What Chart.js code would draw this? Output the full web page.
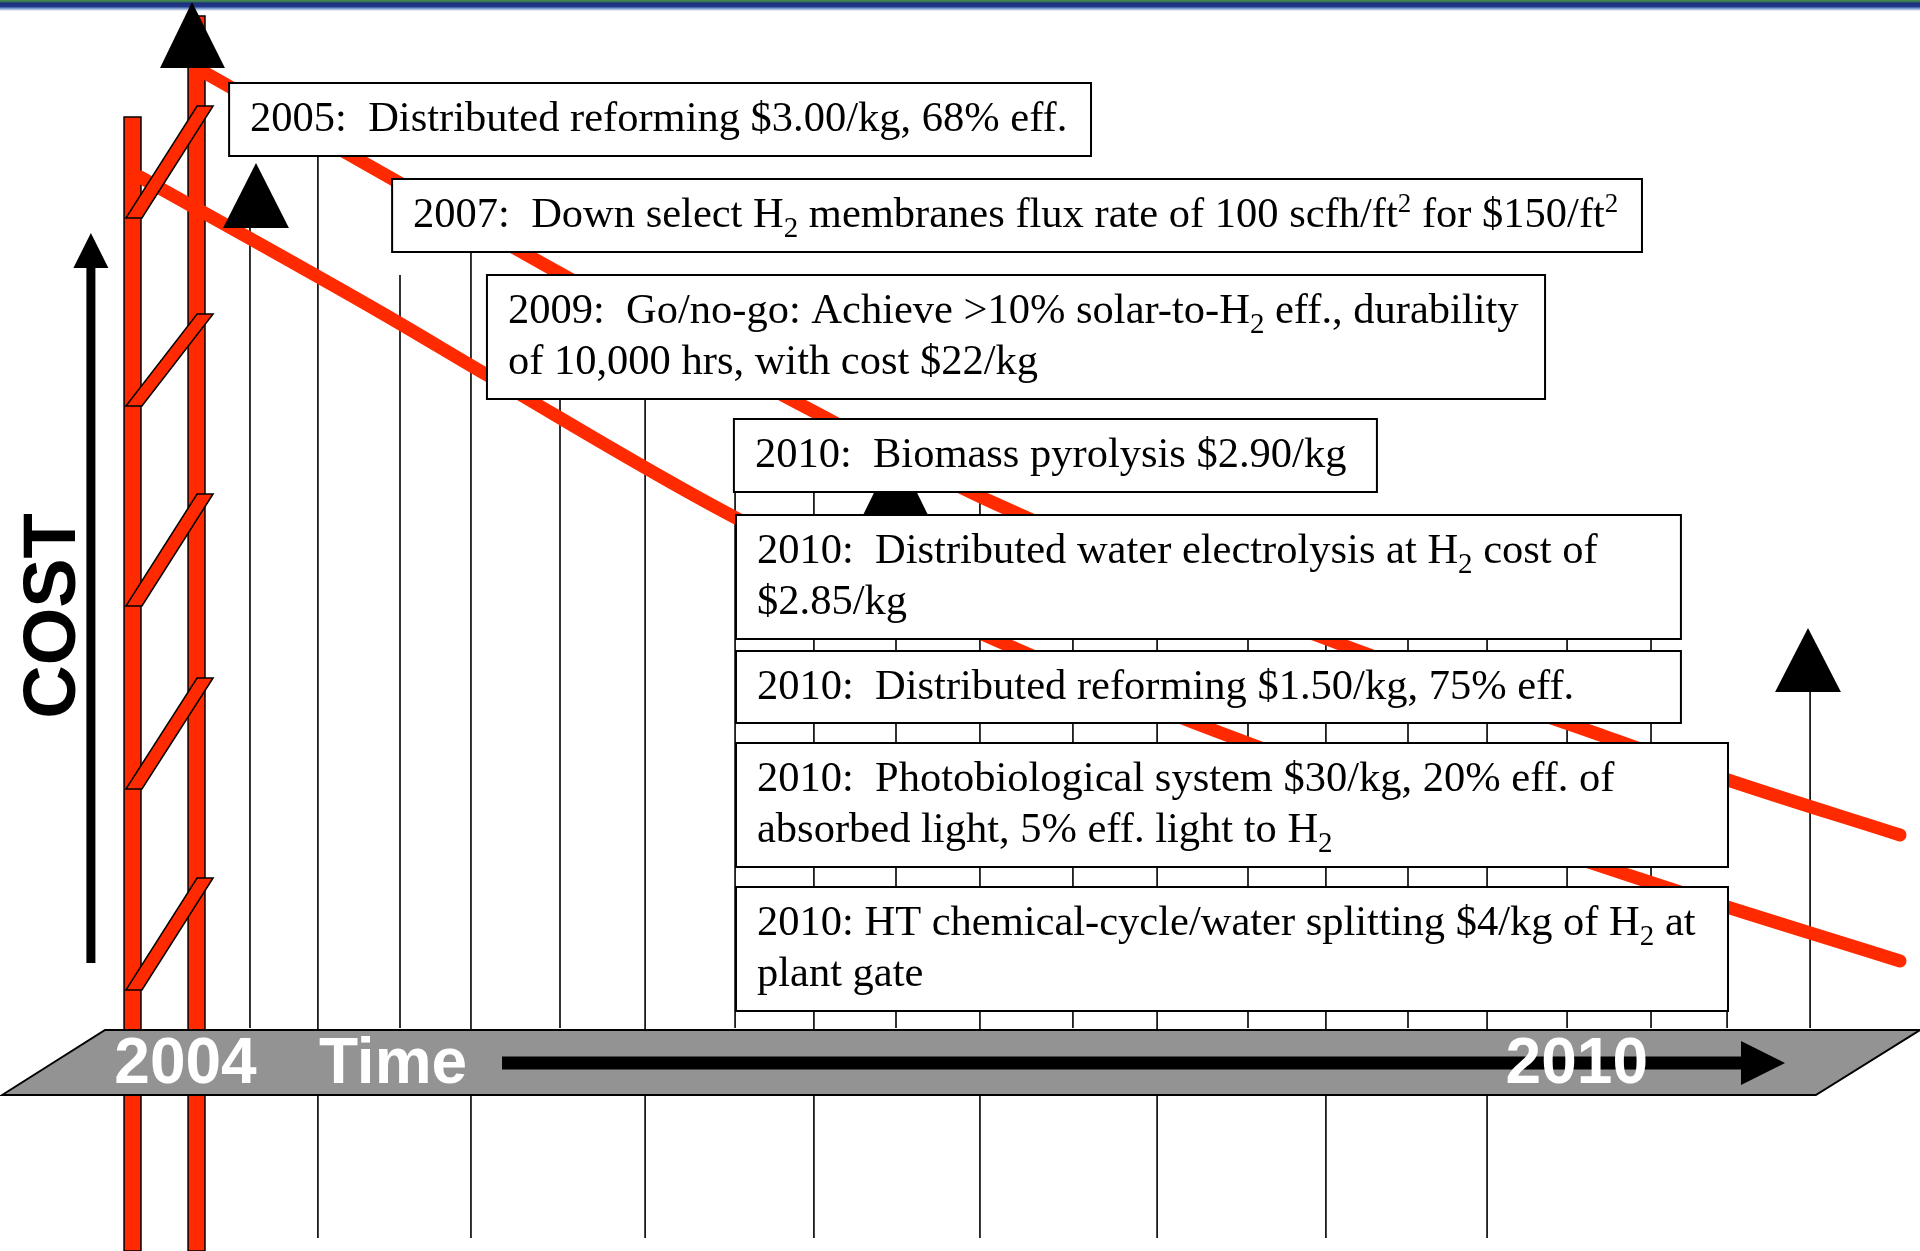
<!DOCTYPE html>
<html>
<head>
<meta charset="utf-8">
<script src="https://cdn.jsdelivr.net/npm/chart.js@4.4.1/dist/chart.umd.min.js"></script>
<style>
  html, body { margin: 0; padding: 0; background: #fff; }
  #wrap { width: 1920px; height: 1251px; }
</style>
</head>
<body>
<div id="wrap"><canvas id="roadmap" width="1920" height="1251"></canvas></div>
<script>
// ---------------------------------------------------------------------------
// Data
// ---------------------------------------------------------------------------
const timeLabels = ['2004', '2010'];
const timeLabelYears = [2004, 2010];
const timeTitle = 'Time';
const costTitle = 'COST';

// milestone boxes, one entry per box (_{..} = subscript, ^{..} = superscript)
const milestoneYears = [2005, 2007, 2009, 2010, 2010, 2010, 2010, 2010];
const milestoneLines = [
  ['2005:  Distributed reforming $3.00/kg, 68% eff.'],
  ['2007:  Down select H_{2} membranes flux rate of 100 scfh/ft^{2} for $150/ft^{2}'],
  ['2009:  Go/no-go: Achieve >10% solar-to-H_{2} eff., durability', 'of 10,000 hrs, with cost $22/kg'],
  ['2010:  Biomass pyrolysis $2.90/kg'],
  ['2010:  Distributed water electrolysis at H_{2} cost of', '$2.85/kg'],
  ['2010:  Distributed reforming $1.50/kg, 75% eff.'],
  ['2010:  Photobiological system $30/kg, 20% eff. of', 'absorbed light, 5% eff. light to H_{2}'],
  ['2010: HT chemical-cycle/water splitting $4/kg of H_{2} at', 'plant gate']
];

// falling cost curves (year, relative cost)
const curveAYears = [2004.063, 2004.809, 2005.550, 2006.689, 2007.487, 2008.979, 2010.078, 2010.652, 2011.394];
const curveACost  = [118.1, 108.3, 98.6, 84.2, 74.8, 60.7, 51.8, 47.1, 41.6];
const curveBYears = [2003.804, 2004.839, 2005.300, 2006.374, 2007.534, 2008.466, 2010.273, 2011.394];
const curveBCost  = [107.4, 93.9, 87.6, 73.3, 60.7, 51.8, 37.2, 29.0];

// time tick lines
const tickYears = [2004.278, 2004.571, 2004.925, 2005.231, 2005.615, 2005.982, 2006.370, 2006.710,
  2007.064, 2007.426, 2007.827, 2008.190, 2008.582, 2008.918, 2009.272, 2009.613,
  2009.958, 2010.320, 2010.648, 2011.006];
const tickLong = [false, true, false, true, false, true, false, true,
  false, true, false, true, false, true, false, true,
  false, false, false, false];

// ---------------------------------------------------------------------------
// Layout (scale units: x = year, y = relative cost)
// ---------------------------------------------------------------------------
const X_MIN = 2003.2, X_MAX = 2011.48;
const Y_MIN = 0, Y_MAX = 125.1;

const tickTop = [102.3, 109.4, 97.6, 99.9, 85.2, 85.2, 83.2, 83.2, 73.6, 75.9, 73.6, 73.6,
  73.6, 73.6, 73.6, 73.6, 73.6, 73.6, 24.0, 55.9];
const TICK_SHORT_END = 22.3;
const TICK_LONG_END = 1.3;

const boxes = [
  { x0: 2004.188, x1: 2007.905, top: 116.8, bottom: 109.5 },
  { x0: 2004.891, x1: 2010.281, top: 107.2, bottom: 99.9 },
  { x0: 2005.300, x1: 2009.863, top: 97.6, bottom: 85.2 },
  { x0: 2006.365, x1: 2009.138, top: 83.2, bottom: 75.9 },
  { x0: 2006.374, x1: 2010.449, top: 73.6, bottom: 61.2 },
  { x0: 2006.374, x1: 2010.449, top: 60.0, bottom: 52.8 },
  { x0: 2006.374, x1: 2010.652, top: 50.8, bottom: 38.4 },
  { x0: 2006.374, x1: 2010.652, top: 36.4, bottom: 24.0 }
];

const costBars = [
  { x0: 2003.735, x1: 2003.808, top: 113.4, bottom: 0 },
  { x0: 2004.011, x1: 2004.084, top: 123.5, bottom: 0 }
];
const rungTops = [114.5, 93.7, 75.7, 57.3, 37.3];
const rungBottoms = [103.3, 84.5, 64.5, 46.2, 26.1];
const rungTopX = [2004.050, 2004.119];
const rungBottomX = [2003.743, 2003.812];

const markers = [
  { x: 2004.028, apex: 124.9, base: 118.3, x0: 2003.890, x1: 2004.170 },
  { x: 2004.304, apex: 108.8, base: 102.3, x0: 2004.162, x1: 2004.446 },
  { x: 2007.062, apex: 80.2, base: 73.6, x0: 2006.922, x1: 2007.202 },
  { x: 2010.997, apex: 62.3, base: 55.9, x0: 2010.855, x1: 2011.139 }
];

const band = [[2003.653, 22.1], [2011.48, 22.1], [2011.031, 15.6], [2003.209, 15.6]];
const bandArrow = { x0: 2005.365, x1: 2010.708, tip: 2010.898, y: 18.8 };
const bandTextY = 16.8;
const timeTitleX = 2004.895;

const costArrow = { x: 2003.592, y0: 28.8, y1: 98.3, apex: 101.8 };
const costText = { x: 2003.437, y: 63.5 };

const RED = '#ff2a00';
const SERIF = '"Liberation Serif", "Times New Roman", Times, serif';
const SANS = '"Liberation Sans", Arial, Helvetica, sans-serif';
const FONT_SIZE = 42.5;

// ---------------------------------------------------------------------------
// Helpers
// ---------------------------------------------------------------------------
function drawRich(ctx, str, x, y) {
  const parts = str.split(/(_\{[^}]*\}|\^\{[^}]*\})/);
  let cx = x;
  parts.forEach(p => {
    if (!p) return;
    let txt = p, size = FONT_SIZE, dy = 0;
    if (p.startsWith('_{')) { txt = p.slice(2, -1); size = 29; dy = 10; }
    else if (p.startsWith('^{')) { txt = p.slice(2, -1); size = 27; dy = -15; }
    ctx.font = `${size}px ${SERIF}`;
    ctx.fillText(txt, cx, y + dy);
    cx += ctx.measureText(txt).width;
  });
}

function poly(ctx, pts) {
  ctx.beginPath();
  pts.forEach((p, i) => (i ? ctx.lineTo(p[0], p[1]) : ctx.moveTo(p[0], p[1])));
  ctx.closePath();
}

const roadmapPlugin = {
  id: 'roadmap',
  beforeDatasetsDraw(chart) {
    const { ctx, chartArea } = chart;
    const X = v => chart.scales.x.getPixelForValue(v);
    const Y = v => chart.scales.y.getPixelForValue(v);
    ctx.save();

    // header strip
    const g = ctx.createLinearGradient(0, chartArea.top, 0, chartArea.top + 11);
    g.addColorStop(0, '#4d8f4a');
    g.addColorStop(0.18, '#2f6a5e');
    g.addColorStop(0.28, '#1a2d7c');
    g.addColorStop(0.6, '#20398a');
    g.addColorStop(0.78, '#7d9ccf');
    g.addColorStop(1, '#ffffff');
    ctx.fillStyle = g;
    ctx.fillRect(chartArea.left, chartArea.top, chartArea.right - chartArea.left, 11);

    // red cost bars
    ctx.lineWidth = 1.5;
    ctx.strokeStyle = '#000';
    ctx.fillStyle = RED;
    costBars.forEach(b => {
      const x = X(b.x0), w = X(b.x1) - X(b.x0), y = Y(b.top), h = Y(b.bottom) - Y(b.top);
      ctx.fillRect(x, y, w, h);
      ctx.strokeRect(x, y, w, h);
    });
    ctx.restore();
  },
  afterDatasetsDraw(chart) {
    const { ctx } = chart;
    const X = v => chart.scales.x.getPixelForValue(v);
    const Y = v => chart.scales.y.getPixelForValue(v);
    ctx.save();

    // ladder rungs
    ctx.lineWidth = 1.5;
    ctx.strokeStyle = '#000';
    ctx.fillStyle = RED;
    rungTops.forEach((t, i) => {
      poly(ctx, [[X(rungTopX[0]), Y(t)], [X(rungTopX[1]), Y(t)],
        [X(rungBottomX[1]), Y(rungBottoms[i])], [X(rungBottomX[0]), Y(rungBottoms[i])]]);
      ctx.fill();
      ctx.stroke();
    });

    // milestone triangles
    ctx.fillStyle = '#000';
    markers.forEach(m => {
      poly(ctx, [[X(m.x), Y(m.apex)], [X(m.x1), Y(m.base)], [X(m.x0), Y(m.base)]]);
      ctx.fill();
    });

    // cost arrow + title
    const cx = X(costArrow.x);
    ctx.fillRect(cx - 4.5, Y(costArrow.y1), 9, Y(costArrow.y0) - Y(costArrow.y1));
    poly(ctx, [[cx, Y(costArrow.apex)], [cx + 17.5, Y(costArrow.y1)], [cx - 17.5, Y(costArrow.y1)]]);
    ctx.fill();
    ctx.save();
    ctx.translate(X(costText.x), Y(costText.y));
    ctx.rotate(-Math.PI / 2);
    ctx.font = `bold 74px ${SANS}`;
    ctx.textAlign = 'center';
    ctx.textBaseline = 'middle';
    ctx.fillText(costTitle, 0, 0);
    ctx.restore();

    // milestone boxes
    boxes.forEach((b, i) => {
      const x = X(b.x0), y = Y(b.top), w = X(b.x1) - X(b.x0), h = Y(b.bottom) - Y(b.top);
      ctx.fillStyle = '#fff';
      ctx.fillRect(x, y, w, h);
      ctx.lineWidth = 2;
      ctx.strokeStyle = '#000';
      ctx.strokeRect(x, y, w, h);
      ctx.fillStyle = '#000';
      ctx.textAlign = 'left';
      ctx.textBaseline = 'alphabetic';
      milestoneLines[i].forEach((line, k) => drawRich(ctx, line, x + 21, y + 48 + k * 51));
    });

    // time band
    poly(ctx, band.map(p => [X(p[0]), Y(p[1])]));
    ctx.fillStyle = '#939393';
    ctx.fill();
    ctx.lineWidth = 2;
    ctx.strokeStyle = '#000';
    ctx.stroke();

    const ay = Y(bandArrow.y);
    ctx.fillStyle = '#000';
    ctx.fillRect(X(bandArrow.x0), ay - 6.5, X(bandArrow.x1) - X(bandArrow.x0), 13);
    poly(ctx, [[X(bandArrow.x1), ay - 22], [X(bandArrow.tip), ay], [X(bandArrow.x1), ay + 22]]);
    ctx.fill();

    ctx.fillStyle = '#fff';
    ctx.font = `bold 64px ${SANS}`;
    ctx.textAlign = 'center';
    ctx.textBaseline = 'alphabetic';
    timeLabels.forEach((t, i) => ctx.fillText(t, X(timeLabelYears[i]), Y(bandTextY)));
    ctx.fillText(timeTitle, X(timeTitleX), Y(bandTextY));
    ctx.restore();
  }
};

// ---------------------------------------------------------------------------
// Chart
// ---------------------------------------------------------------------------
const tickData = [];
tickYears.forEach((yr, i) => {
  tickData.push({ x: yr, y: tickTop[i] });
  tickData.push({ x: yr, y: tickLong[i] ? TICK_LONG_END : TICK_SHORT_END });
  tickData.push({ x: yr, y: null });
});

new Chart(document.getElementById('roadmap'), {
  type: 'line',
  data: {
    datasets: [
      {
        label: 'Cost path A',
        data: curveAYears.map((x, i) => ({ x, y: curveACost[i] })),
        borderColor: RED,
        borderWidth: 13,
        borderCapStyle: 'round',
        cubicInterpolationMode: 'monotone',
        pointRadius: 0,
        order: 1
      },
      {
        label: 'Cost path B',
        data: curveBYears.map((x, i) => ({ x, y: curveBCost[i] })),
        borderColor: RED,
        borderWidth: 13,
        borderCapStyle: 'round',
        cubicInterpolationMode: 'monotone',
        pointRadius: 0,
        order: 1
      },
      {
        label: 'Time ticks',
        data: tickData,
        borderColor: '#000',
        borderWidth: 1.6,
        pointRadius: 0,
        spanGaps: false,
        order: 2
      }
    ]
  },
  options: {
    responsive: false,
    animation: false,
    devicePixelRatio: 1,
    events: [],
    layout: { padding: 0 },
    scales: {
      x: { type: 'linear', min: X_MIN, max: X_MAX, display: false },
      y: { type: 'linear', min: Y_MIN, max: Y_MAX, display: false }
    },
    plugins: {
      legend: { display: false },
      tooltip: { enabled: false }
    }
  },
  plugins: [roadmapPlugin]
});
</script>
</body>
</html>
